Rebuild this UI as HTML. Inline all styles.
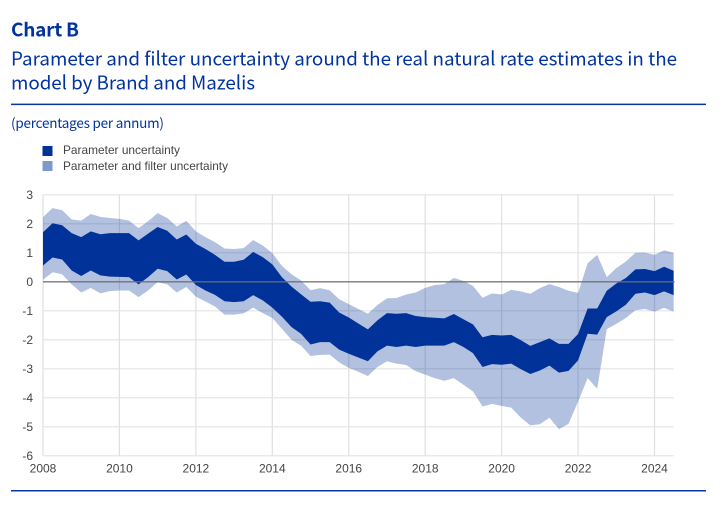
<!DOCTYPE html>
<html lang="en">
<head>
<meta charset="utf-8">
<title>Chart B</title>
<style>
html,body{margin:0;padding:0;background:#fff;width:723px;height:507px;overflow:hidden}
svg{display:block}
.head{font-family:"Noto Sans CJK SC","Liberation Sans",sans-serif;fill:#0033a0}
.ax{font-family:"Liberation Sans",sans-serif;font-size:12px;fill:#444}
.lg{font-family:"Liberation Sans",sans-serif;font-size:12px;fill:#444}
</style>
</head>
<body>
<svg id="chart" xmlns="http://www.w3.org/2000/svg" width="723" height="507" viewBox="0 0 723 507">
  <text class="head" x="11" y="36.5" font-size="19" font-weight="700" textLength="68" lengthAdjust="spacing">Chart B</text>
  <text class="head" x="11" y="65.5" font-size="18.8" textLength="666" lengthAdjust="spacing">Parameter and filter uncertainty around the real natural rate estimates in the</text>
  <text class="head" x="11" y="89.5" font-size="18.8" textLength="244" lengthAdjust="spacing">model by Brand and Mazelis</text>
  <rect x="11" y="103.6" width="695" height="1.5" fill="#0a36a4"/>
  <text class="head" x="11" y="128" font-size="13.5" textLength="153" lengthAdjust="spacing">(percentages per annum)</text>
  <rect x="42.5" y="146" width="10" height="10" fill="#003299"/>
  <text class="lg" x="63" y="154" textLength="117" lengthAdjust="spacingAndGlyphs">Parameter uncertainty</text>
  <rect x="42.5" y="161" width="10" height="10" fill="#7f98cc"/>
  <text class="lg" x="63" y="170" textLength="165" lengthAdjust="spacingAndGlyphs">Parameter and filter uncertainty</text>
  <g id="plot"></g>
  <rect x="11" y="490" width="695" height="1.5" fill="#0a36a4"/>
</svg>
<script>
const startYear = 2008;
const quartersPerYear = 4;
const yTicks = [3, 2, 1, 0, -1, -2, -3, -4, -5, -6];
const xTicks = [2008, 2010, 2012, 2014, 2016, 2018, 2020, 2022, 2024];
const outerUpper = [2.23,2.54,2.47,2.15,2.11,2.34,2.24,2.2,2.17,2.11,1.85,2.09,2.37,2.2,1.91,2.1,1.74,1.54,1.37,1.15,1.13,1.16,
  1.44,1.25,0.99,0.55,0.26,0.05,-0.29,-0.22,-0.29,-0.6,-0.77,-0.94,-1.1,-0.8,-0.57,-0.56,-0.44,-0.37,-0.21,-0.11,-0.08,0.13,0.03,-0.14,-0.55,
  -0.4,-0.44,-0.28,-0.33,-0.41,-0.22,-0.08,-0.18,-0.31,-0.38,0.64,0.93,0.16,0.47,0.7,1.0,1.01,0.93,1.09,1.0];
const innerUpper = [1.71,2.02,1.95,1.68,1.54,1.74,1.64,1.68,1.68,1.68,1.43,1.66,1.89,1.76,1.46,1.63,1.31,1.13,0.93,0.69,0.69,0.76,
  1.03,0.85,0.6,0.16,-0.16,-0.43,-0.69,-0.67,-0.72,-1.06,-1.23,-1.44,-1.64,-1.33,-1.08,-1.1,-1.08,-1.18,-1.22,-1.24,-1.26,-1.11,-1.29,-1.47,-1.91,
  -1.83,-1.85,-1.83,-2.01,-2.21,-2.08,-1.95,-2.14,-2.14,-1.8,-0.92,-0.92,-0.31,-0.06,0.13,0.43,0.44,0.37,0.52,0.38];
const innerLower = [0.56,0.84,0.77,0.39,0.2,0.39,0.22,0.18,0.17,0.16,-0.09,0.16,0.45,0.37,0.08,0.25,-0.11,-0.3,-0.45,-0.67,-0.7,-0.67,
  -0.46,-0.64,-0.89,-1.2,-1.56,-1.79,-2.16,-2.08,-2.08,-2.34,-2.48,-2.61,-2.74,-2.4,-2.2,-2.25,-2.2,-2.25,-2.2,-2.2,-2.2,-2.08,-2.25,-2.46,-2.94,
  -2.84,-2.86,-2.82,-3.01,-3.18,-3.06,-2.89,-3.13,-3.07,-2.71,-1.79,-1.82,-1.22,-1.02,-0.79,-0.41,-0.37,-0.46,-0.33,-0.46];
const outerLower = [0.07,0.33,0.26,-0.09,-0.37,-0.21,-0.4,-0.32,-0.3,-0.3,-0.53,-0.3,-0.01,-0.09,-0.37,-0.18,-0.51,-0.68,-0.85,-1.13,-1.13,-1.09,
  -0.89,-1.08,-1.25,-1.62,-2.0,-2.2,-2.56,-2.52,-2.51,-2.78,-2.97,-3.1,-3.25,-2.94,-2.74,-2.82,-2.87,-3.08,-3.2,-3.32,-3.41,-3.32,-3.55,-3.78,-4.3,
  -4.21,-4.28,-4.34,-4.68,-4.95,-4.91,-4.69,-5.08,-4.9,-4.13,-3.32,-3.69,-1.63,-1.45,-1.25,-0.98,-0.94,-1.03,-0.9,-1.03];

const NS = 'http://www.w3.org/2000/svg';
const plot = document.getElementById('plot');
const xLeft = 43, pxPerYear = 38.22, yTop = 194.8, pxPerUnit = 29;
const xRight = xLeft + (outerUpper.length - 1) / quartersPerYear * pxPerYear;
function xScale(year) { return xLeft + (year - startYear) * pxPerYear; }
function yScale(v) { return yTop + (yTicks[0] - v) * pxPerUnit; }
function xOf(i) { return xScale(startYear + i / quartersPerYear); }
function make(tag, props) {
  const el = document.createElementNS(NS, tag);
  for (const k in props) el.setAttribute(k, props[k]);
  plot.appendChild(el);
  return el;
}
function bandPoints(upper, lower) {
  const pts = [];
  upper.forEach(function (v, i) { pts.push(xOf(i).toFixed(2) + ',' + yScale(v).toFixed(2)); });
  for (let i = lower.length - 1; i >= 0; i--) pts.push(xOf(i).toFixed(2) + ',' + yScale(lower[i]).toFixed(2));
  return pts.join(' ');
}

yTicks.forEach(function (t) {
  const g = make('line', { x1: xLeft, x2: xRight, y1: yScale(t), y2: yScale(t), stroke: '#e4e4e4', 'stroke-width': 1.2 });
  
  
  const l = make('text', { x: 33, y: yScale(t) + 4.3, 'text-anchor': 'end', class: 'ax' });
  l.textContent = String(t);
  
  
});
xTicks.forEach(function (t) {
  const g = make('line', { x1: xScale(t), x2: xScale(t), y1: yTop, y2: yScale(yTicks[yTicks.length - 1]), stroke: '#e0e0e4', 'stroke-width': 1.2 });
  
  
  const l = make('text', { x: xScale(t), y: 472.5, 'text-anchor': 'middle', class: 'ax' });
  l.textContent = String(t);
  
  
});

const outerBand = make('polygon', { points: bandPoints(outerUpper, outerLower), fill: 'rgb(0,50,153)', 'fill-opacity': 0.3 });



const innerBand = make('polygon', { points: bandPoints(innerUpper, innerLower), fill: '#003299' });



const zeroLine = make('line', { x1: xLeft, x2: xRight + 1, y1: yScale(0), y2: yScale(0), stroke: '#6e6e6e', 'stroke-width': 1.3, 'stroke-opacity': 0.9 });


</script>
</body>
</html>
